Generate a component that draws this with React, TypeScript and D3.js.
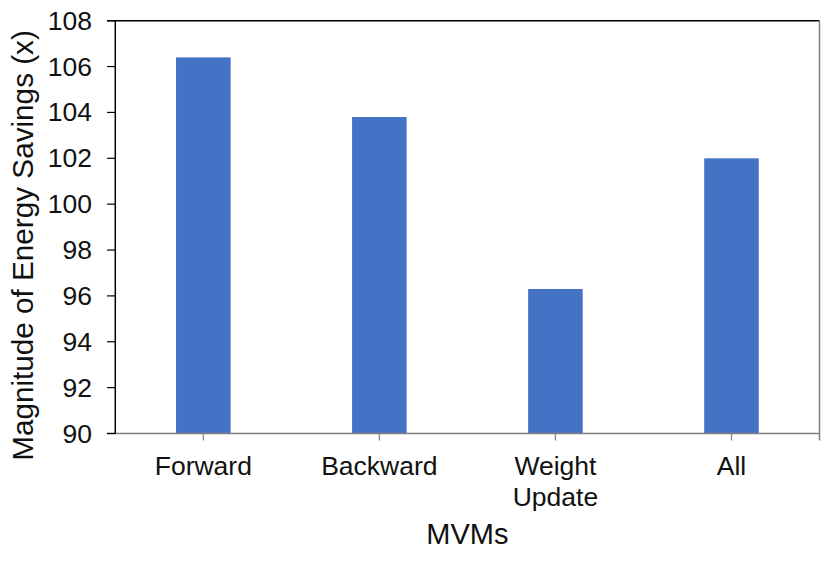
import React from "react";
import * as d3 from "d3";

const categories: string[][] = [["Forward"], ["Backward"], ["Weight", "Update"], ["All"]];
const categoryKeys = ["Forward", "Backward", "Weight Update", "All"];
const values = [106.4, 103.8, 96.3, 102.0];
const yTicks = [90, 92, 94, 96, 98, 100, 102, 104, 106, 108];
const yTitle = "Magnitude of Energy Savings (x)";
const xTitle = "MVMs";

const W = 830;
const H = 562;
const left = 115.3;
const right = 819.5;
const top = 20.7;
const bottom = 433.5;
const FONT = "'Liberation Sans', Arial, Helvetica, sans-serif";

export default function App() {
  const x = d3
    .scaleBand<string>()
    .domain(categoryKeys)
    .range([left, right])
    .paddingInner(0.69)
    .paddingOuter(0.345);
  const y = d3.scaleLinear().domain([90, 108]).range([bottom, top]);
  const grayAxis = "#7f7f7f";

  return (
    <svg
      width={W}
      height={H}
      style={{ position: "absolute", left: 0, top: 0, background: "#fff" }}
      fontFamily={FONT}
    >
      <rect x={0} y={0} width={W} height={H} fill="#fff" />
      {/* bars */}
      {categoryKeys.map((k, i) => (
        <rect
          key={k}
          x={x(k)!}
          y={y(values[i])}
          width={x.bandwidth()}
          height={y(90) - y(values[i])}
          fill="#4472C4"
        />
      ))}
      {/* top border */}
      <line x1={107} x2={right} y1={top} y2={top} stroke="#000" strokeWidth={1.5} />
      {/* right border */}
      <line x1={right} x2={right} y1={top} y2={bottom + 7} stroke={grayAxis} strokeWidth={1.5} />
      {/* bottom axis */}
      <line x1={107} x2={right} y1={bottom} y2={bottom} stroke={grayAxis} strokeWidth={1.5} />
      {categoryKeys.map((k) => (
        <line
          key={"t" + k}
          x1={x(k)! + x.bandwidth() / 2}
          x2={x(k)! + x.bandwidth() / 2}
          y1={bottom}
          y2={bottom + 7}
          stroke={grayAxis}
          strokeWidth={1.2}
        />
      ))}
      {/* left axis */}
      <line x1={left} x2={left} y1={top} y2={bottom} stroke="#000" strokeWidth={1.5} />
      {yTicks.map((t) => (
        <g key={t}>
          <line x1={107} x2={left} y1={y(t)} y2={y(t)} stroke="#000" strokeWidth={1.2} />
          <text
            x={92}
            y={y(t)}
            textAnchor="end"
            dominantBaseline="central"
            fontSize={26.5}
            fill="#111"
          >
            {t}
          </text>
        </g>
      ))}
      {/* x tick labels */}
      {categoryKeys.map((k, i) => (
        <text
          key={"l" + k}
          x={x(k)! + x.bandwidth() / 2}
          y={475}
          textAnchor="middle"
          fontSize={26.5}
          fill="#111"
        >
          {categories[i].map((line, j) => (
            <tspan key={j} x={x(k)! + x.bandwidth() / 2} dy={j === 0 ? 0 : 31}>
              {line}
            </tspan>
          ))}
        </text>
      ))}
      {/* titles */}
      <text x={(left + right) / 2} y={544} textAnchor="middle" fontSize={29} fill="#111">
        {xTitle}
      </text>
      <text
        transform={`translate(33, 245.5) rotate(-90)`}
        textAnchor="middle"
        fontSize={29.7}
        fill="#111"
      >
        {yTitle}
      </text>
    </svg>
  );
}
